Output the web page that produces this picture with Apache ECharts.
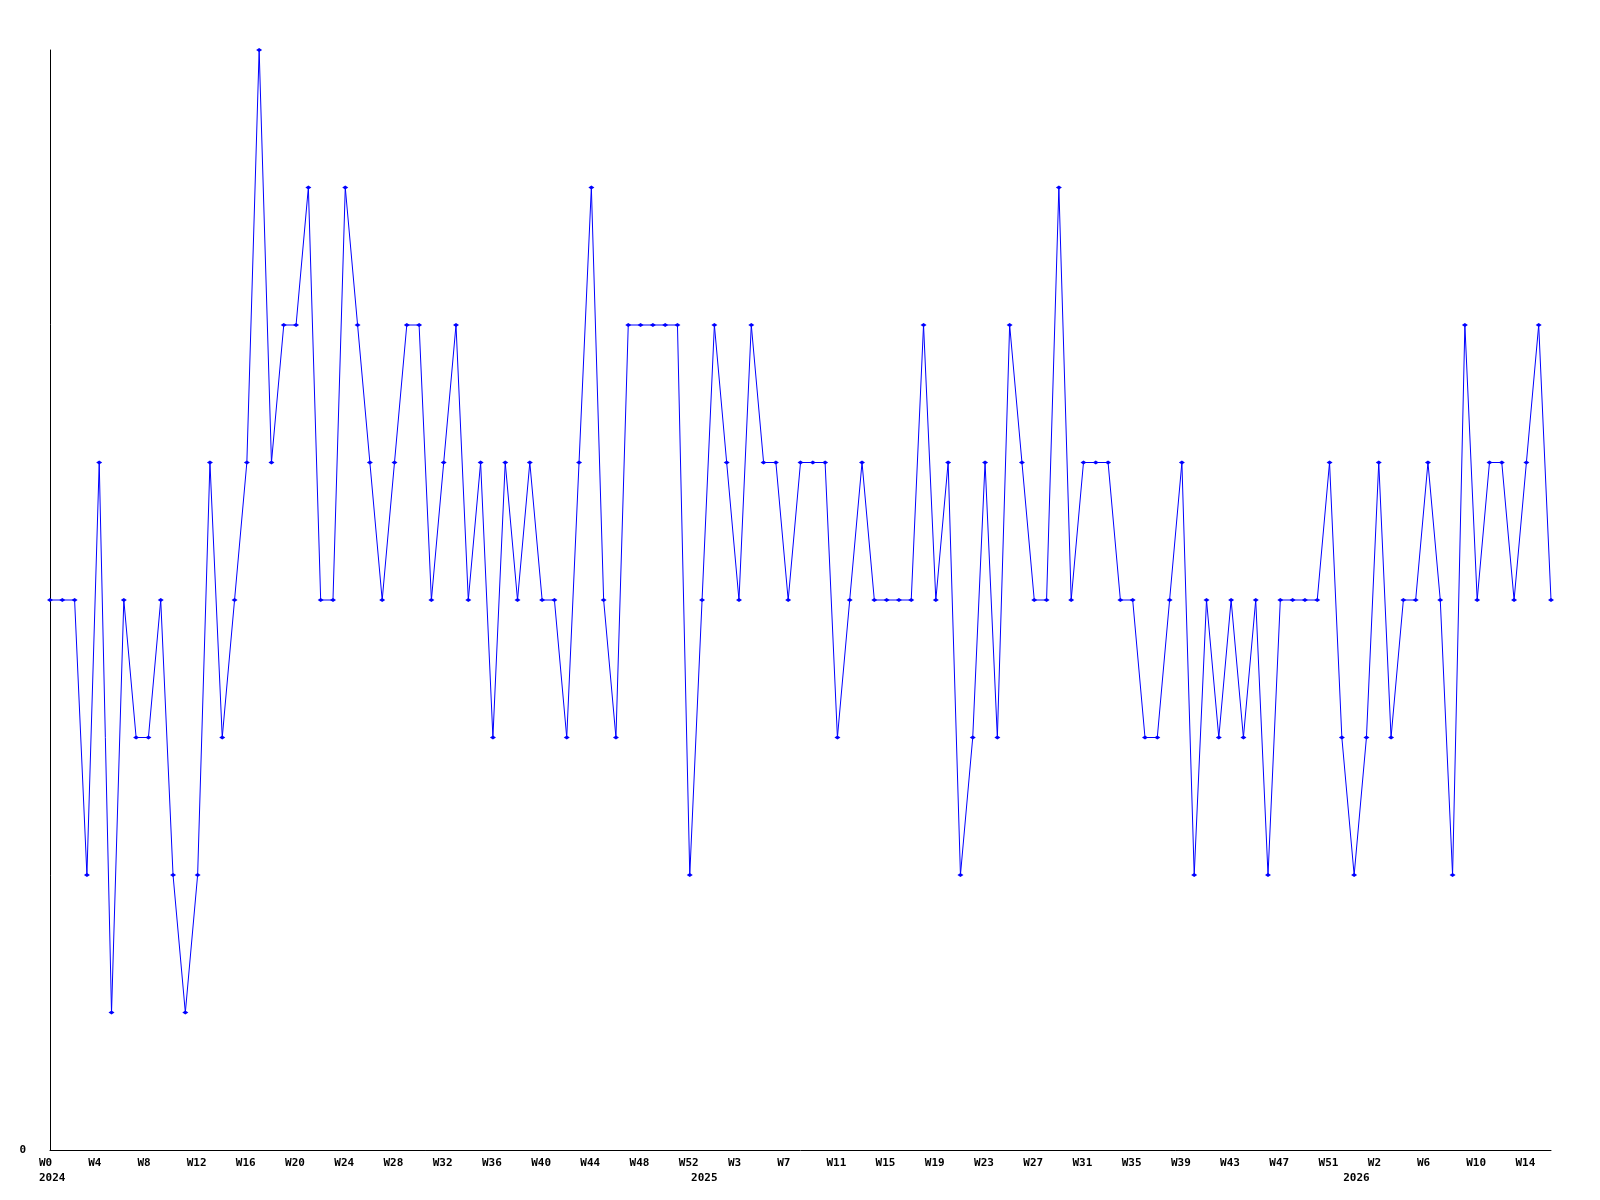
<!DOCTYPE html>
<html>
<head>
<meta charset="utf-8">
<script src="https://cdn.jsdelivr.net/npm/echarts@6/dist/echarts.min.js"></script>
<style>
html,body{margin:0;padding:0;background:#fff;}
#chart{width:1600px;height:1200px;}
</style>
</head>
<body>
<div id="chart"></div>
<script>
// Week axis definition: each year and the week numbers it covers
const years = [2024, 2025, 2026];
const firstWeek = [0, 0, 0];
const lastWeek = [52, 52, 16];

// Series values (one per week, in order)
const values = [
  4, 4, 4, 2, 5, 1, 4, 3, 3, 4,
  2, 1, 2, 5, 3, 4, 5, 8, 5, 6,
  6, 7, 4, 4, 7, 6, 5, 4, 5, 6,
  6, 4, 5, 6, 4, 5, 3, 5, 4, 5,
  4, 4, 3, 5, 7, 4, 3, 6, 6, 6,
  6, 6, 2, 4, 6, 5, 4, 6, 5, 5,
  4, 5, 5, 5, 3, 4, 5, 4, 4, 4,
  4, 6, 4, 5, 2, 3, 5, 3, 6, 5,
  4, 4, 7, 4, 5, 5, 5, 4, 4, 3,
  3, 4, 5, 2, 4, 3, 4, 3, 4, 2,
  4, 4, 4, 4, 5, 3, 2, 3, 5, 3,
  4, 4, 5, 4, 2, 6, 4, 5, 5, 4,
  5, 6, 4
];

// y-axis tick labels shown
const yTickLabels = ['0'];

// Build categories
const categories = [];
const weekLabels = [];
const yearStartIndex = {};
years.forEach((y, k) => {
  yearStartIndex[categories.length] = String(y);
  for (let w = firstWeek[k]; w <= lastWeek[k]; w++) {
    categories.push(y + '-W' + w);
    weekLabels.push('W' + w);
  }
});

const font = {
  fontFamily: '"DejaVu Sans Mono", "Liberation Mono", monospace',
  fontWeight: 'bold',
  fontSize: 11,
  color: '#000'
};

const chart = echarts.init(document.getElementById('chart'));
chart.setOption({
  animation: false,
  backgroundColor: '#fff',
  grid: { left: 50, right: 49, top: 50, bottom: 50, containLabel: false },
  xAxis: [
    {
      type: 'category',
      data: categories,
      boundaryGap: false,
      axisLine: { show: true, lineStyle: { color: '#000', width: 1 } },
      axisTick: { show: false },
      splitLine: { show: false },
      axisLabel: Object.assign({}, font, {
        margin: 8,
        interval: function (i) { return i % 4 === 0; },
        formatter: function (v, i) { return '{a|' + weekLabels[i] + '}'; },
        rich: { a: Object.assign({}, font, { width: 22, align: 'left' }) }
      })
    },
    {
      type: 'category',
      data: categories,
      boundaryGap: false,
      position: 'bottom',
      axisLine: { show: false },
      axisTick: { show: false },
      splitLine: { show: false },
      axisLabel: Object.assign({}, font, {
        margin: 23,
        interval: function (i) { return yearStartIndex[i] !== undefined; },
        formatter: function (v, i) { return '{a|' + (yearStartIndex[i] || '') + '}'; },
        rich: { a: Object.assign({}, font, { width: 22, align: 'left' }) }
      })
    }
  ],
  yAxis: {
    type: 'value',
    min: 0,
    max: 8,
    interval: 8,
    axisLine: { show: true, lineStyle: { color: '#000', width: 1 } },
    axisTick: { show: false },
    splitLine: { show: false },
    axisLabel: Object.assign({}, font, {
      margin: 24,
      formatter: function (v) { return yTickLabels.indexOf(String(v)) >= 0 ? String(v) : ''; }
    })
  },
  series: [{
    type: 'line',
    data: values,
    xAxisIndex: 0,
    symbol: 'diamond',
    symbolSize: [6, 4],
    showSymbol: true,
    itemStyle: { color: '#0000ff' },
    lineStyle: { color: '#0000ff', width: 1 },
    emphasis: { disabled: true }
  }]
});
</script>
</body>
</html>
